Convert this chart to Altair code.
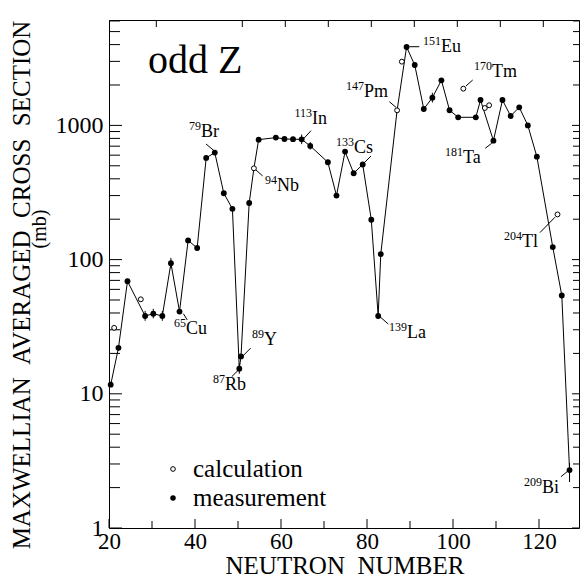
import altair as alt
import pandas as pd

# ---------------- data ----------------
# measured cross sections (filled dots)
meas_N = [20.4, 22.2, 24.3, 28.4, 30.3, 32.4, 34.4, 36.4, 38.4, 40.5,
          42.6, 44.6, 46.7, 48.7, 50.3, 50.7, 52.6, 54.8, 58.8, 60.8,
          62.8, 64.8, 66.8, 70.9, 72.9, 74.9, 76.9, 79.0, 81.0, 82.6,
          83.2, 89.2, 91.1, 93.2, 95.2, 97.3, 99.2, 101.2, 105.3, 106.4,
          109.4, 111.5, 113.4, 115.4, 117.4, 119.5, 123.2, 125.3, 127.1]
meas_sig = [11.7, 22, 69, 38, 39.5, 38, 94, 41, 139, 122,
            572, 627, 312, 239, 15.4, 19, 264, 783, 811, 792,
            789, 787, 703, 531, 300, 638, 440, 511, 198, 38,
            110, 3836, 2818, 1325, 1608, 2168, 1296, 1149, 1149, 1545,
            769, 1545, 1175, 1364, 1000, 585, 124, 54, 2.7]

# calculated cross sections (open dots); some lie on the connecting line
calc_N = [21.2, 27.4, 53.7, 87.0, 88.1, 102.4, 107.4, 108.4, 124.3]
calc_sig = [31, 50.6, 479, 1295, 2985, 1878, 1348, 1413, 217]
calc_on_line = [False, False, True, True, False, False, False, False, False]

# error bars
err_N = [28.4, 30.3, 32.4, 34.4, 50.3, 64.8, 66.8, 95.2, 127.1]
err_lo = [35, 36.5, 35, 86, 14.1, 725, 660, 1480, 2.2]
err_hi = [41.5, 43, 41.5, 103, 16.8, 855, 750, 1750, 3.05]

# nucleus labels: anchor (where mass number ends / symbol starts)
lab_mass = ["79", "65", "87", "89", "94", "113", "133", "139", "147", "151", "170", "181", "204", "209"]
lab_sym = ["Br", "Cu", "Rb", "Y", "Nb", "In", "Cs", "La", "Pm", "Eu", "Tm", "Ta", "Tl", "Bi"]
lab_N = [41.4, 37.9, 47.0, 56.05, 59.07, 67.2, 76.98, 89.3, 79.3, 97.2, 109.07, 102.3, 116.05, 120.7]
lab_sig = [820, 27.9, 10.7, 23.1, 324, 1024, 623, 26.0, 1628, 3524, 2295, 525, 124, 1.82]

# leader lines from labels to points
lead_N1 = [42.56, 37.3, 48.53, 51.1, 54.19, 65.19, 79.3, 83.02, 85.19, 89.84, 103.02, 107.5, 120.23, 125.1]
lead_s1 = [727, 39.5, 13.4, 19.1, 465, 792, 525, 37.5, 1502, 3857, 1966, 675, 159, 2.41]
lead_N2 = [44.42, 38.2, 50.07, 52.95, 55.74, 66.98, 80.93, 84.95, 86.74, 92.16, 104.58, 109.0, 123.72, 126.8]
lead_s2 = [648, 35.5, 15.0, 21.9, 420, 913, 591, 33.1, 1364, 3857, 2178, 736, 207, 2.67]

# axes
x_labels = [20, 40, 60, 80, 100, 120]
x_minor = [30, 50, 70, 90, 110]
x_top = [31, 51, 61, 71, 81, 91, 101, 111, 121]
y_labels = [1, 10, 100, 1000]
y_minor = [2, 3, 4, 5, 6, 7, 8, 9, 20, 30, 40, 50, 60, 70, 80, 90,
           200, 300, 400, 500, 600, 700, 800, 900, 2000, 3000, 4000, 5000, 6000]
x_title = ["NEUTRON\u2002NUMBER"]
y_title = ["MAXWELLIAN\u2002AVERAGED\u2002CROSS\u2002SECTION"]
y_unit = ["(mb)"]
legend_labels = ["calculation", "measurement"]
panel_title = ["odd Z"]

# ---------------- build chart ----------------
FONT = "Liberation Serif"
W, H = 470, 508
xsc = alt.Scale(domain=[20, 129.3], nice=False, zero=False)
ysc = alt.Scale(type="log", domain=[1, 6100], nice=False)

meas = pd.DataFrame({"N": meas_N, "s": meas_sig})
calc = pd.DataFrame({"N": calc_N, "s": calc_sig, "on": calc_on_line})
line_df = pd.concat([meas, calc[calc["on"]][["N", "s"]]]).sort_values("N").reset_index(drop=True)
line_df["o"] = range(len(line_df))
err = pd.DataFrame({"N": err_N, "lo": err_lo, "hi": err_hi})
labs = pd.DataFrame({"N": lab_N, "s": lab_sig, "mass": lab_mass, "sym": lab_sym})
leads = pd.DataFrame({"x1": lead_N1, "y1": lead_s1, "x2": lead_N2, "y2": lead_s2})

xaxis = alt.Axis(values=x_labels, ticks=False, domain=False, grid=False,
                 labelFont=FONT, labelFontSize=23, labelColor="black", labelPadding=2,
                 labelFlush=False, title=None)
yaxis = alt.Axis(values=y_labels, format="d", ticks=False, domain=False, grid=False,
                 labelFont=FONT, labelFontSize=24, labelColor="black", labelPadding=6,
                 labelFlush=False, labelOverlap=False, title=None)


def X(f):
    return alt.X(f, scale=xsc, axis=xaxis)


def Y(f):
    return alt.Y(f, scale=ysc, axis=yaxis)


line = alt.Chart(line_df).mark_line(color="black", strokeWidth=1).encode(
    x=X("N:Q"), y=Y("s:Q"), order="o:Q")
ebars = alt.Chart(err).mark_rule(color="black", strokeWidth=1).encode(
    x=X("N:Q"), y=Y("lo:Q"), y2="hi:Q")
filled = alt.Chart(meas).mark_point(shape="circle", filled=True, color="black", size=34, opacity=1).encode(
    x=X("N:Q"), y=Y("s:Q"))
opened = alt.Chart(calc).mark_point(shape="circle", filled=True, fill="white", stroke="black",
                                    strokeWidth=1, size=24, opacity=1).encode(
    x=X("N:Q"), y=Y("s:Q"))
leaders = alt.Chart(leads).mark_rule(color="black", strokeWidth=1).encode(
    x=X("x1:Q"), y=Y("y1:Q"), x2="x2:Q", y2="y2:Q")
sym = alt.Chart(labs).mark_text(align="left", baseline="alphabetic", font=FONT, fontSize=18,
                                color="black").encode(
    x=X("N:Q"), y=Y("s:Q"), text="sym:N")
mass = alt.Chart(labs).mark_text(align="right", baseline="alphabetic", font=FONT, fontSize=12,
                                 dy=-7, color="black").encode(
    x=X("N:Q"), y=Y("s:Q"), text="mass:N")


# ticks (inward)
def yticks(vals, x0, x1):
    return alt.Chart(pd.DataFrame({"v": vals})).mark_rule(color="black", strokeWidth=1).encode(
        y=Y("v:Q"), x=alt.value(x0), x2=alt.value(x1))


def xticks(vals, y0, y1):
    return alt.Chart(pd.DataFrame({"v": vals})).mark_rule(color="black", strokeWidth=1).encode(
        x=X("v:Q"), y=alt.value(y0), y2=alt.value(y1))


ticks = [
    yticks(y_labels, 0, 13), yticks(y_minor, 0, 11),
    yticks(y_labels, W, W - 7), yticks(y_minor, W, W - 6),
    xticks(x_labels, H, H - 9), xticks(x_minor, H, H - 7),
    xticks(x_top, 0, 7),
]


def text_layer(txt, x, y, size, angle=0, align="left", baseline="alphabetic"):
    return alt.Chart(pd.DataFrame({"t": txt})).mark_text(
        font=FONT, fontSize=size, angle=angle, align=align, baseline=baseline,
        color="black").encode(x=alt.value(x), y=alt.value(y), text="t:N")


xt = text_layer(x_title, W / 2 + 1, H + 46, 25, align="center")
yt = text_layer(y_title, -79, 265, 25, angle=270, align="center")
mb = text_layer(y_unit, -63, 209, 20, angle=270, align="center")
oddz = text_layer(panel_title, 39, 53, 40)
leg_t1 = text_layer([legend_labels[0]], 84, 457, 25)
leg_t2 = text_layer([legend_labels[1]], 84, 486, 25)

leg_open = alt.Chart(pd.DataFrame({"t": [legend_labels[0]]})).mark_point(
    shape="circle", filled=True, fill="white", stroke="black", strokeWidth=1, size=22, opacity=1).encode(
    x=alt.value(64), y=alt.value(449))
leg_fill = alt.Chart(pd.DataFrame({"t": [legend_labels[1]]})).mark_point(
    shape="circle", filled=True, color="black", size=30, opacity=1).encode(
    x=alt.value(64), y=alt.value(478))

chart = alt.layer(
    line, *ticks, ebars, leaders, filled, opened, sym, mass, xt, yt, mb, oddz,
    leg_open, leg_fill, leg_t1, leg_t2
).properties(
    width=W, height=H,
    autosize=alt.AutoSizeParams(type="none"),
    padding={"left": 101, "top": 12, "right": 1, "bottom": 51},
    background="white",
).configure_view(stroke="black", strokeWidth=1)

chart.save("out.html", embed_options={"renderer": "svg", "actions": False})
